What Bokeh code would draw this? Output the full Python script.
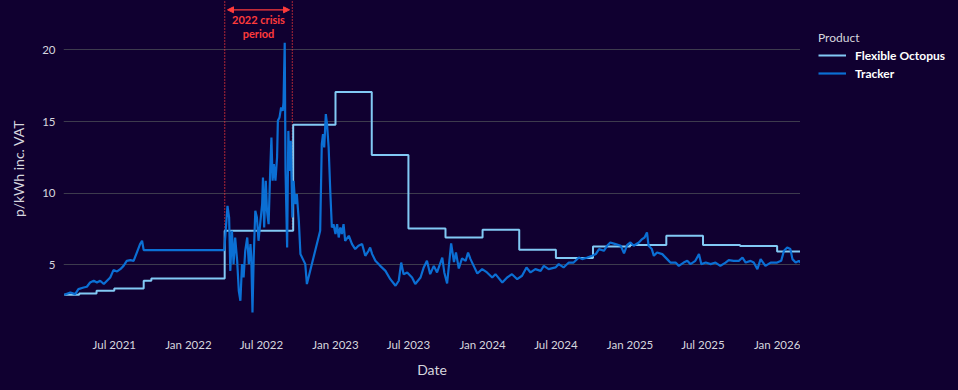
import pandas as pd
from bokeh.plotting import figure
from bokeh.layouts import row
from bokeh.models import (Range1d, FixedTicker, DatetimeTickFormatter, Legend,
                          LegendItem, Arrow, NormalHead)
from bokeh.core.properties import value
from bokeh.embed import file_html
from bokeh.resources import INLINE

# ---------------- data ----------------
series_names = ["Flexible Octopus", "Tracker"]
legend_title = "Product"

flex_dates = ["2021-02-27", "2021-04-05", "2021-05-18", "2021-07-01", "2021-09-12",
              "2021-10-01", "2022-04-01", "2022-09-18", "2023-01-01", "2023-04-01",
              "2023-07-01", "2023-10-01", "2024-01-01", "2024-04-01", "2024-07-01",
              "2024-10-01", "2025-01-01", "2025-04-01", "2025-07-01", "2025-10-01",
              "2026-01-01", "2026-02-28"]
flex_values = [2.91, 3.00, 3.19, 3.35, 3.89, 4.05, 7.38, 14.78, 17.07, 12.66,
               7.54, 6.91, 7.45, 6.05, 5.47, 6.28, 6.38, 7.03, 6.38, 6.31,
               5.93, 5.93]

tracker_dates = [
    "2021-02-27", "2021-03-14", "2021-03-26", "2021-04-03", "2021-04-16", "2021-04-24",
    "2021-05-02", "2021-05-11", "2021-05-19", "2021-05-27", "2021-06-05", "2021-06-13",
    "2021-06-21", "2021-06-29", "2021-07-08", "2021-07-16", "2021-07-24", "2021-08-01",
    "2021-08-10", "2021-08-18", "2021-08-26", "2021-09-03", "2021-09-08", "2021-09-12",
    "2022-03-31", "2022-04-08", "2022-04-12", "2022-04-15", "2022-04-19", "2022-04-23",
    "2022-04-27", "2022-05-02", "2022-05-06", "2022-05-10", "2022-05-14", "2022-05-18",
    "2022-05-22", "2022-05-27", "2022-05-31", "2022-06-04", "2022-06-06", "2022-06-09",
    "2022-06-12", "2022-06-16", "2022-06-20", "2022-06-24", "2022-06-28", "2022-07-03",
    "2022-07-05", "2022-07-08", "2022-07-12", "2022-07-15", "2022-07-19", "2022-07-23",
    "2022-07-26", "2022-07-29", "2022-08-01", "2022-08-05", "2022-08-09", "2022-08-11",
    "2022-08-15", "2022-08-19", "2022-08-23", "2022-08-25", "2022-08-28", "2022-08-30",
    "2022-09-03", "2022-09-06", "2022-09-09", "2022-09-12", "2022-09-16", "2022-09-19",
    "2022-09-23", "2022-09-27", "2022-10-02", "2022-10-06", "2022-10-18", "2022-10-22",
    "2022-11-24", "2022-11-28", "2022-12-01", "2022-12-04", "2022-12-08", "2022-12-11",
    "2022-12-15", "2022-12-19", "2022-12-23", "2022-12-27", "2023-01-01", "2023-01-05",
    "2023-01-09", "2023-01-13", "2023-01-17", "2023-01-21", "2023-01-25", "2023-02-03",
    "2023-02-11", "2023-02-19", "2023-02-27", "2023-03-08", "2023-03-16", "2023-03-24",
    "2023-03-28", "2023-04-02", "2023-04-10", "2023-04-22", "2023-05-05", "2023-05-17",
    "2023-05-30", "2023-06-07", "2023-06-13", "2023-06-19", "2023-06-28", "2023-07-10",
    "2023-07-18", "2023-07-31", "2023-08-08", "2023-08-16", "2023-08-24", "2023-09-02",
    "2023-09-10", "2023-09-23", "2023-09-28", "2023-10-05", "2023-10-15", "2023-10-22",
    "2023-10-27", "2023-11-03", "2023-11-11", "2023-11-20", "2023-11-26", "2023-12-02",
    "2023-12-10", "2023-12-19", "2023-12-31", "2024-01-12", "2024-01-25", "2024-02-02",
    "2024-02-19", "2024-03-02", "2024-03-14", "2024-03-27", "2024-04-08", "2024-04-19",
    "2024-04-29", "2024-05-11", "2024-05-24", "2024-06-01", "2024-06-13", "2024-06-30",
    "2024-07-08", "2024-07-20", "2024-08-02", "2024-08-14", "2024-08-27", "2024-09-04",
    "2024-09-17", "2024-09-29", "2024-10-08", "2024-10-16", "2024-10-28", "2024-11-05",
    "2024-11-13", "2024-11-26", "2024-12-09", "2024-12-17", "2024-12-25", "2025-01-02",
    "2025-01-10", "2025-01-23", "2025-01-31", "2025-02-06", "2025-02-12", "2025-02-16",
    "2025-02-24", "2025-03-01", "2025-03-09", "2025-03-22", "2025-04-03", "2025-04-11",
    "2025-04-24", "2025-05-02", "2025-05-14", "2025-05-23", "2025-05-31", "2025-06-12",
    "2025-06-21", "2025-06-27", "2025-07-08", "2025-07-20", "2025-08-01", "2025-08-13",
    "2025-08-26", "2025-09-03", "2025-09-15", "2025-09-28", "2025-10-07", "2025-10-15",
    "2025-10-27", "2025-11-04", "2025-11-13", "2025-11-21", "2025-12-03", "2025-12-16",
    "2026-01-01", "2026-01-11", "2026-01-18", "2026-01-26", "2026-02-03", "2026-02-08",
    "2026-02-16", "2026-02-24", "2026-02-28"]
tracker_values = [
    2.91, 3.07, 2.96, 3.31, 3.42, 3.47,
    3.77, 3.89, 3.77, 3.89, 3.66, 3.89,
    4.12, 4.63, 4.54, 4.70, 4.93, 5.28,
    5.33, 5.28, 5.86, 6.45, 6.68, 6.03,
    6.03, 9.12, 8.30, 4.58, 7.38, 5.05,
    6.91, 5.28, 3.19, 2.49, 5.05, 4.12,
    5.98, 6.91, 5.05, 6.45, 5.51, 1.67,
    5.51, 8.77, 8.30, 6.68, 7.84, 9.24,
    11.10, 7.61, 10.87, 8.77, 7.84, 11.56,
    13.89, 10.87, 12.03, 10.87, 12.49, 15.05,
    15.28, 15.98, 15.75, 16.33, 20.50, 11.56,
    6.21, 14.35, 11.56, 13.66, 8.30, 10.87,
    9.24, 9.94, 8.07, 5.75, 5.05, 3.66,
    7.38, 13.43, 14.12, 13.19, 15.52, 14.82,
    13.19, 10.17, 7.61, 7.84, 7.15, 7.84,
    6.91, 7.61, 7.15, 7.84, 6.68, 7.03,
    6.45, 6.10, 6.33, 6.45, 5.63, 5.98,
    6.21, 5.75, 5.28, 4.93, 4.58, 4.00,
    3.54, 3.89, 5.16, 4.35, 4.47, 4.12,
    3.66, 4.12, 4.82, 5.28, 4.35, 4.93,
    4.47, 5.51, 4.47, 3.70, 6.50, 5.20,
    5.86, 4.75, 5.45, 5.28, 5.86, 5.40,
    4.93, 4.40, 4.70, 4.47, 4.12, 4.35,
    3.77, 4.12, 4.35, 4.00, 4.24, 4.82,
    4.47, 4.70, 4.58, 4.93, 4.70, 4.82,
    5.05, 4.82, 5.16, 5.16, 5.51, 5.40,
    5.51, 5.63, 5.75, 6.10, 5.98, 6.33,
    6.56, 6.45, 6.33, 5.80, 6.40, 6.56,
    6.33, 6.56, 6.80, 6.91, 7.26, 6.33,
    6.10, 5.63, 5.86, 5.75, 5.40, 5.16,
    5.16, 4.93, 5.16, 5.28, 5.05, 5.28,
    5.75, 5.05, 5.16, 5.05, 5.16, 4.93,
    5.16, 5.33, 5.28, 5.28, 5.51, 5.16,
    5.28, 5.16, 4.70, 5.40, 4.93, 5.16,
    5.16, 5.28, 5.98, 6.21, 6.10, 5.40,
    5.16, 5.28, 5.16]

crisis_start = "2022-04-01"
crisis_end = "2022-09-16"
crisis_label = ["2022 crisis", "period"]

x_tick_dates = ["2021-07-01", "2022-01-01", "2022-07-01", "2023-01-01", "2023-07-01",
                "2024-01-01", "2024-07-01", "2025-01-01", "2025-07-01", "2026-01-01"]
y_ticks = [5, 10, 15, 20]

x_start, x_end = "2021-02-25", "2026-02-28"
y_start, y_end = 0, 23.45

# ---------------- styling ----------------
BG = "#100030"
FLEX_C = "#82c9f4"
TRACK_C = "#0b6fd4"
RED = "#ff3b3b"
GRID_C = "#3d3b4d"
TXT_C = "#d6d6de"
FONT = "Lato"


def ms(d):
    return pd.Timestamp(d).value // 10**6


p = figure(width=800, height=390, x_axis_type="datetime",
           output_backend="svg", toolbar_location=None,
           x_range=Range1d(ms(x_start), ms(x_end)),
           y_range=Range1d(y_start, y_end),
           min_border_left=63, min_border_right=0,
           min_border_top=0, min_border_bottom=54)
p.background_fill_color = BG
p.border_fill_color = BG
p.outline_line_color = None

# crisis markers
cs, ce = ms(crisis_start), ms(crisis_end)
p.segment(x0=[cs, ce], y0=[7.4, 7.4], x1=[cs, ce], y1=[y_end, y_end],
          line_color=RED, line_width=1.3, line_dash="1 2")

flex_style = dict(line_color=FLEX_C, line_width=2)
track_style = dict(line_color=TRACK_C, line_width=2.2)
flex_x = pd.to_datetime(flex_dates)
track_x = pd.to_datetime(tracker_dates)
p.step(x=flex_x, y=flex_values, mode="after", **flex_style)
p.line(x=track_x, y=tracker_values, **track_style)

inset = 7 * 24 * 3600 * 1000
arrow = Arrow(x_start=cs + inset, x_end=ce - inset, y_start=22.8, y_end=22.8,
              line_color=RED, line_width=1.3,
              start=NormalHead(size=6, fill_color=RED, line_color=RED),
              end=NormalHead(size=6, fill_color=RED, line_color=RED))
p.add_layout(arrow)
mid = (cs + ce) / 2
p.text(x=[mid, mid], y=[22.1, 21.15], text=crisis_label,
       text_align="center", text_baseline="middle",
       text_font=value(FONT), text_font_style="bold", text_font_size="11px",
       text_color=RED)

# axes
p.xaxis.ticker = FixedTicker(ticks=[ms(d) for d in x_tick_dates])
fmt = "%b %Y"
p.xaxis.formatter = DatetimeTickFormatter(days=fmt, months=fmt, years=fmt,
                                          hours=fmt, minutes=fmt)
p.yaxis.ticker = FixedTicker(ticks=y_ticks)
for ax in (p.xaxis[0], p.yaxis[0]):
    ax.axis_line_color = None
    ax.major_tick_line_color = None
    ax.minor_tick_line_color = None
    ax.major_tick_out = 0
    ax.major_label_text_font = FONT
    ax.major_label_text_font_size = "11.5px"
    ax.major_label_text_color = TXT_C
    ax.axis_label_text_font = FONT
    ax.axis_label_text_font_style = "normal"
    ax.axis_label_text_font_size = "14px"
    ax.axis_label_text_color = TXT_C
p.xaxis.axis_label = "Date"
p.yaxis.axis_label = "p/kWh inc. VAT"
p.xaxis.major_label_standoff = 1
p.xaxis.axis_label_standoff = 7
p.yaxis.major_label_standoff = 8
p.yaxis.axis_label_standoff = 12

p.xgrid.visible = False
p.ygrid.grid_line_color = GRID_C
p.ygrid.grid_line_width = 1

# legend panel (right of the plot area); its series sit outside its own ranges
q = figure(width=158, height=390, output_backend="svg", toolbar_location=None,
           x_axis_location=None, y_axis_location=None,
           x_range=Range1d(ms(x_start), ms(x_end)), y_range=Range1d(100, 101),
           min_border_left=0, min_border_top=0, min_border_right=0,
           min_border_bottom=54)
q.background_fill_color = BG
q.border_fill_color = BG
q.outline_line_color = None
q.grid.visible = False
lf = q.step(x=flex_x, y=flex_values, mode="after", **flex_style)
lt = q.line(x=track_x, y=tracker_values, **track_style)
legend = Legend(items=[LegendItem(label=series_names[0], renderers=[lf]),
                       LegendItem(label=series_names[1], renderers=[lt])],
                title=legend_title, location=(10, 246),
                background_fill_alpha=0, border_line_alpha=0,
                padding=8, spacing=0, margin=0,
                glyph_width=28, glyph_height=18, label_height=18,
                label_standoff=9, title_standoff=1,
                label_text_font=FONT, label_text_font_style="bold",
                label_text_font_size="12px", label_text_color="#ffffff",
                title_text_font=FONT, title_text_font_style="normal",
                title_text_font_size="12px", title_text_color=TXT_C)
q.add_layout(legend)

layout = row(p, q, spacing=0)
template = "{% block postamble %}<style>html, body { background-color: " + BG + "; }</style>{% endblock %}"
open("out.html", "w").write(file_html(layout, INLINE, template=template))
